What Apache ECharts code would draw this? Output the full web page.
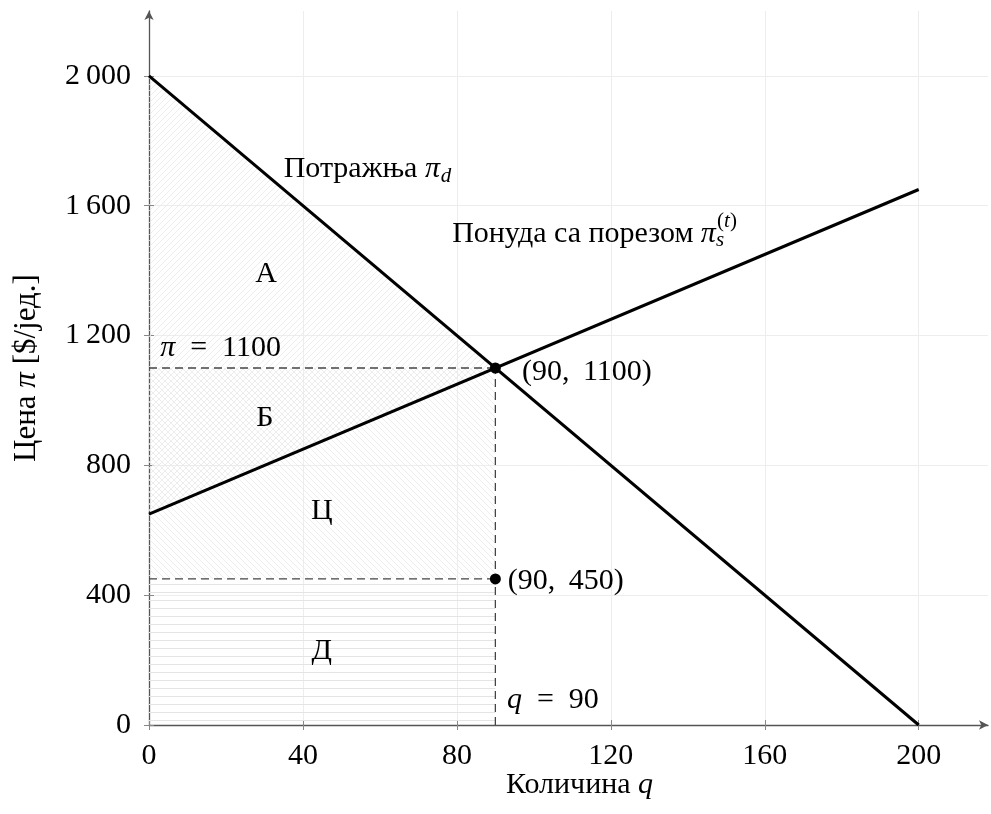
<!DOCTYPE html>
<html><head><meta charset="utf-8">
<script src="https://cdn.jsdelivr.net/npm/echarts@6/dist/echarts.min.js"></script>
<style>html,body{margin:0;padding:0;background:#fff}#c{width:991px;height:814px}</style>
</head><body><div id="c"></div>
<script>
// ---- data ----
const xTicks = [0, 40, 80, 120, 160, 200];
const yTicks = [0, 400, 800, 1200, 1600, 2000];
const demandQ = [0, 200];
const demandP = [2000, 0];
const supplyQ = [0, 200];
const supplyP = [650, 1650];
const eqPoint = [90, 1100];
const sellerPoint = [90, 450];
const regionA = [[0, 2000], [90, 1100], [0, 1100]];
const regionB = [[0, 1100], [90, 1100], [0, 650]];
const regionC = [[0, 650], [90, 1100], [90, 450], [0, 450]];
const regionD = [[0, 0], [90, 0], [90, 450], [0, 450]];
const guidePrice = [[0, 1100], [90, 1100]];
const guideSeller = [[0, 450], [90, 450]];
const guideQty = [[90, 0], [90, 1100]];

// annotation texts with anchor in data coordinates
const annotations = [
  {t: 'Потражња {i|π}', q: 75.6, p: 1713, align: 'right'},
  {t: '{si|d}', q: 75.8, p: 1689, align: 'left', small: true},
  {t: 'Понуда са порезом {i|π}', q: 147.3, p: 1513, align: 'right'},
  {t: '{si|s}', q: 147.3, p: 1492, align: 'left', small: true},
  {t: '({si|t})', q: 147.6, p: 1552, align: 'left', small: true},
  {t: 'А', q: 30.4, p: 1390, align: 'center'},
  {t: 'Б', q: 30.1, p: 946, align: 'center'},
  {t: 'Ц', q: 44.9, p: 659, align: 'center'},
  {t: 'Д', q: 44.9, p: 228, align: 'center'},
  {t: '{i|π}\u2002=\u20021100', q: 2.9, p: 1162, align: 'left'},
  {t: '(90,\u2009 1100)', q: 96.9, p: 1088, align: 'left'},
  {t: '(90,\u2009 450)', q: 93.2, p: 444, align: 'left'},
  {t: '{i|q}\u2002=\u200090', q: 93.0, p: 77, align: 'left'}
];

const FONT = '"Liberation Serif", "DejaVu Serif", serif';
const FS = 30, FS_SMALL = 21;

function makePattern(kind) {
  const s = kind === 'h' ? 8 : 6;
  const c = document.createElement('canvas');
  c.width = s; c.height = s;
  const g = c.getContext('2d');
  g.strokeStyle = kind === 'h' ? '#e4e4e4' : '#e9e9e9';
  g.lineWidth = kind === 'h' ? 1 : 0.8;
  g.beginPath();
  if (kind === 'ne' || kind === 'x') {
    g.moveTo(0, s); g.lineTo(s, 0);
    g.moveTo(-1, 1); g.lineTo(1, -1);
    g.moveTo(s - 1, s + 1); g.lineTo(s + 1, s - 1);
  }
  if (kind === 'nw' || kind === 'x') {
    g.moveTo(0, 0); g.lineTo(s, s);
    g.moveTo(s - 1, -1); g.lineTo(s + 1, 1);
    g.moveTo(-1, s - 1); g.lineTo(1, s + 1);
  }
  if (kind === 'h') {
    g.moveTo(0, 0.5); g.lineTo(s, 0.5);
  }
  g.stroke();
  return {image: c, repeat: 'repeat'};
}
const regions = [regionA, regionB, regionC, regionD];
const patterns = [makePattern('ne'), makePattern('x'), makePattern('nw'), makePattern('h')];

const pairs = (qs, ps) => qs.map((q, i) => [q, ps[i]]);
const fmtThousands = v => {
  const s = String(v);
  return s.length > 3 ? s.slice(0, s.length - 3) + '\u2009' + s.slice(-3) : s;
};

const chart = echarts.init(document.getElementById('c'), null, {renderer: 'canvas'});

const axisCommon = {
  type: 'value',
  axisLine: {show: true, lineStyle: {color: '#555', width: 1.3}, symbol: ['none', 'arrow'], symbolSize: [7, 9]},
  splitLine: {show: true, lineStyle: {color: '#ededed', width: 1}},
  axisTick: {show: true, length: 5, lineStyle: {color: '#888', width: 1}},
  axisLabel: {color: '#000', fontFamily: FONT, fontSize: FS}
};

const richStyles = {
  i: {fontStyle: 'italic', fontFamily: FONT, fontSize: FS, color: '#000'},
  si: {fontStyle: 'italic', fontFamily: FONT, fontSize: FS_SMALL, color: '#000'}
};

const lineSeries = (data, style, z) => ({
  type: 'line', data, symbol: 'none', silent: true, z,
  lineStyle: style, animation: false
});

const option = {
  animation: false,
  backgroundColor: '#fff',
  grid: {left: 149, top: 11, width: 839, height: 714, containLabel: false},
  xAxis: [
    Object.assign({}, axisCommon, {
      min: 0, max: 218, interval: 40,
      name: 'Количина {i|q}', nameLocation: 'middle', nameGap: 45, nameMoveOverlap: false,
      nameTextStyle: {fontFamily: FONT, fontSize: FS, color: '#000', padding: [0, 0, 0, 22], rich: richStyles},
      axisTick: Object.assign({}, axisCommon.axisTick, {customValues: xTicks}),
      axisLabel: Object.assign({}, axisCommon.axisLabel, {margin: 16, customValues: xTicks})
    }),
    {type: 'value', min: 0, max: 218, interval: 40, position: 'bottom',
     axisLine: {show: false}, splitLine: {show: false}, axisLabel: {show: false},
     axisTick: {show: true, inside: true, length: 5, customValues: xTicks, lineStyle: {color: '#888', width: 1}}}
  ],
  yAxis: [
    Object.assign({}, axisCommon, {
      min: 0, max: 2200, interval: 400,
      name: 'Цена {i|π} [$/јед.]', nameLocation: 'middle', nameGap: 107, nameRotate: 90,
      nameTextStyle: {fontFamily: FONT, fontSize: 31, color: '#000', rich: {
        i: {fontStyle: 'italic', fontFamily: FONT, fontSize: 31, color: '#000'}}},
      axisTick: Object.assign({}, axisCommon.axisTick, {customValues: yTicks}),
      axisLabel: Object.assign({}, axisCommon.axisLabel, {margin: 18, customValues: yTicks, formatter: fmtThousands})
    }),
    {type: 'value', min: 0, max: 2200, interval: 400, position: 'left',
     axisLine: {show: false}, splitLine: {show: false}, axisLabel: {show: false},
     axisTick: {show: true, inside: true, length: 5, customValues: yTicks, lineStyle: {color: '#888', width: 1}}}
  ],
  series: [
    {
      type: 'custom', silent: true, z: 1,
      data: regions.map((r, i) => [i]),
      renderItem: (params, api) => {
        const r = regions[params.dataIndex];
        return {
          type: 'polygon',
          shape: {points: r.map(p => api.coord(p))},
          style: {fill: patterns[params.dataIndex], stroke: null}
        };
      }
    },
    lineSeries(guidePrice, {color: '#444', width: 1.3, type: [8, 5]}, 3),
    lineSeries(guideSeller, {color: '#444', width: 1.3, type: [8, 5]}, 3),
    lineSeries(guideQty, {color: '#444', width: 1.3, type: [8, 5]}, 3),
    lineSeries(pairs(demandQ, demandP), {color: '#000', width: 3}, 4),
    lineSeries(pairs(supplyQ, supplyP), {color: '#000', width: 3}, 4),
    {
      type: 'scatter', silent: true, z: 5, symbol: 'circle', symbolSize: 11,
      itemStyle: {color: '#000', opacity: 1},
      data: [eqPoint, sellerPoint]
    },
    {
      type: 'custom', silent: true, z: 6,
      data: annotations.map((a, i) => [i]),
      renderItem: (params, api) => {
        const a = annotations[params.dataIndex];
        const pt = api.coord([a.q, a.p]);
        return {
          type: 'text', x: pt[0], y: pt[1],
          style: {
            text: a.t, fill: '#000',
            fontFamily: FONT, fontSize: a.small ? FS_SMALL : FS,
            align: a.align, verticalAlign: 'middle',
            rich: richStyles
          }
        };
      }
    }
  ]
};
chart.setOption(option);
</script>
</body></html>
